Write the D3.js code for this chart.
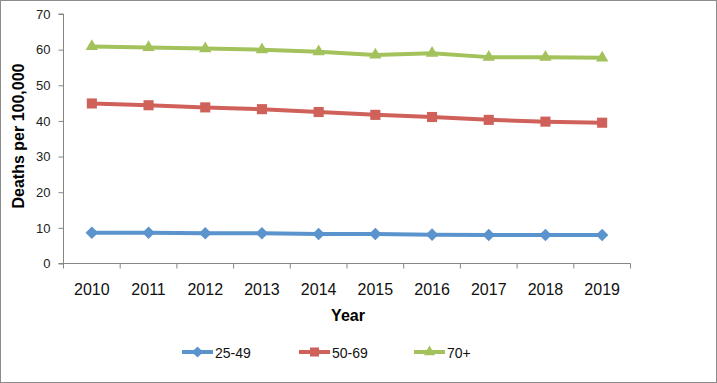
<!DOCTYPE html>
<html><head><meta charset="utf-8">
<script src="https://cdn.jsdelivr.net/npm/d3@7"></script>
<style>body{margin:0;background:#fff}svg{display:block}text{font-family:"Liberation Sans",Arial,sans-serif}</style>
</head><body>
<svg id="c" width="717" height="383"></svg>
<script>
const years = ["2010","2011","2012","2013","2014","2015","2016","2017","2018","2019"];
const s2549 = [8.6, 8.6, 8.5, 8.5, 8.3, 8.3, 8.1, 8.0, 8.0, 8.0];
const s5069 = [44.9, 44.4, 43.8, 43.3, 42.5, 41.7, 41.1, 40.3, 39.8, 39.5];
const s70 = [60.9, 60.6, 60.3, 60.0, 59.4, 58.5, 59.0, 57.9, 57.9, 57.7];
const seriesNames = ["25-49","50-69","70+"];
const yTicks = [0,10,20,30,40,50,60,70];

(function(){
const series = [
  {name: seriesNames[0], values: s2549, color: "#5B93CD", symbol: d3.symbolDiamond2},
  {name: seriesNames[1], values: s5069, color: "#D0605A", symbol: d3.symbolSquare2},
  {name: seriesNames[2], values: s70, color: "#A3C25C", symbol: d3.symbolTriangle2}
];

const svg = d3.select("#c");
svg.append("rect").attr("x",0.5).attr("y",0.5).attr("width",716).attr("height",382)
  .attr("fill","#fff").attr("stroke","#8c8c8c");

const pl = 63.5, pr = 630.5, pt = 14, pb = 263.5;
const x = d3.scaleBand().domain(years).range([pl, pr]);
const y = d3.scaleLinear().domain([0,70]).range([pb, pt]);

// Y axis
const ya = svg.append("g").attr("transform",`translate(${pl},0)`)
  .call(d3.axisLeft(y).tickValues(yTicks).tickSize(5).tickPadding(8));
ya.select(".domain").attr("stroke","#868686").attr("d",`M-5,${pt}H0V${pb}H-5`);
ya.selectAll(".tick line").attr("stroke","#868686");
ya.selectAll(".tick text").attr("font-size",13).attr("fill","#222");

// X axis
const xa = svg.append("g").attr("transform",`translate(0,${pb})`)
  .call(d3.axisBottom(x).tickSize(0).tickPadding(20));
xa.select(".domain").attr("stroke","#868686").attr("d",`M${pl},0H${pr}`);
xa.selectAll(".tick text").attr("font-size",16).attr("fill","#111");
const bounds = [pl, ...years.map(v => x(v) + x.bandwidth())];
xa.selectAll(".bt").data(bounds).enter().append("line").attr("class","bt")
  .attr("x1",d=>d).attr("x2",d=>d).attr("y1",0).attr("y2",5).attr("stroke","#868686");

// titles
svg.append("text").attr("transform","translate(24,136) rotate(-90)")
  .attr("text-anchor","middle").attr("font-size",16).attr("font-weight","bold").text("Deaths per 100,000");
svg.append("text").attr("x",348).attr("y",321).attr("text-anchor","middle")
  .attr("font-size",16).attr("font-weight","bold").text("Year");

const sz = s => s===d3.symbolTriangle2?110:(s===d3.symbolSquare2?130:100);
const line = d3.line().x((d,i)=>x(years[i]) + x.bandwidth()/2).y(d=>y(d));
series.forEach(s => {
  svg.append("path").attr("d",line(s.values)).attr("fill","none")
    .attr("stroke",s.color).attr("stroke-width",4).attr("stroke-linejoin","round");
  svg.selectAll(null).data(s.values).enter().append("path")
    .attr("transform",(d,i)=>`translate(${x(years[i]) + x.bandwidth()/2},${y(d)})`)
    .attr("d",d3.symbol().type(s.symbol).size(sz(s.symbol)))
    .attr("fill",s.color);
});

// legend
const legX = [182, 299, 414];
series.forEach((s,i) => {
  const g = svg.append("g").attr("transform",`translate(${legX[i]},352)`);
  g.append("line").attr("x1",0).attr("x2",31).attr("stroke",s.color).attr("stroke-width",4);
  g.append("path").attr("transform","translate(15.5,0)")
    .attr("d",d3.symbol().type(s.symbol).size(sz(s.symbol)*0.8))
    .attr("fill",s.color);
  g.append("text").attr("x",33).attr("y",6).attr("font-size",14).attr("fill","#111").text(s.name);
});
})();
</script>
</body></html>
